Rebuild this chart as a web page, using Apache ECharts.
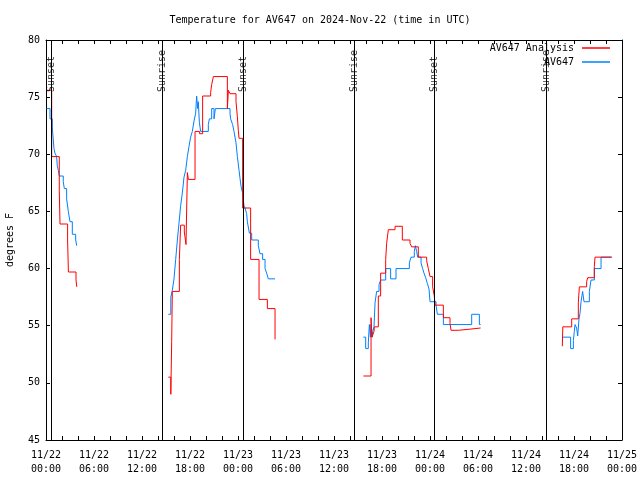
<!DOCTYPE html>
<html>
<head>
<meta charset="utf-8">
<script src="https://cdn.jsdelivr.net/npm/echarts@6/dist/echarts.min.js"></script>
<style>html,body{margin:0;padding:0;background:#fff}#c{width:640px;height:480px}</style>
</head>
<body>
<div id="c"></div>
<script>
// Hours since 2024-11-22 00:00 UTC, temperature in degrees F
const xTickLabels = ['11/22\n00:00','11/22\n06:00','11/22\n12:00','11/22\n18:00','11/23\n00:00','11/23\n06:00','11/23\n12:00','11/23\n18:00','11/24\n00:00','11/24\n06:00','11/24\n12:00','11/24\n18:00','11/25\n00:00'];
const eventTimes = [0.71, 14.52, 24.66, 38.55, 48.55, 62.58];
const eventNames = ['Sunset','Sunrise','Sunset','Sunrise','Sunset','Sunrise'];

const analysisNight1 = [[0.08,75.6],[0.71,69.8],[1.66,66.8],[1.75,63.9],[2.7,62.5],[2.8,59.7],[3.75,59.0],[3.85,58.4]];
const analysisDay1 = [[15.29,50.5],[15.6,49.0],[15.71,53.6],[15.79,58.0],[16.67,60.8],[16.83,63.8],[17.29,63.2],[17.5,62.1],[17.67,68.4],[17.8,67.8],[18.63,72.0],[19.2,71.8],[19.58,75.1],[20.58,75.4],[20.71,76.1],[20.92,76.8],[22.67,74.0],[22.8,75.6],[23.0,75.3],[23.75,74.6],[23.92,73.3],[24.04,72.1],[24.13,71.4],[24.58,65.3],[25.58,60.8],[26.63,57.3],[27.67,56.5],[28.63,53.8]];
const analysisDay2 = [[39.67,50.6],[40.63,55.7],[40.75,54.0],[41.0,54.5],[41.04,54.9],[41.54,57.6],[41.83,59.6],[42.46,60.8],[42.58,62.2],[42.79,63.4],[43.63,63.7],[44.54,62.5],[45.5,62.2],[45.71,61.9],[46.54,61.0],[47.58,60.7],[47.79,60.0],[48.0,59.3],[48.33,58.4],[48.54,57.6],[48.63,56.8],[49.67,55.7],[50.5,55.2],[50.63,54.6],[51.54,54.7],[53.0,54.8],[54.33,54.8]];
const analysisDay3 = [[64.54,53.2],[64.6,54.9],[65.71,55.6],[66.54,57.0],[66.67,58.4],[67.58,58.85],[67.71,59.2],[68.54,60.2],[68.63,61.0],[70.71,61.0]];

const obsNight1 = [[0.08,74.0],[0.5,73.1],[0.79,72.3],[1.0,70.5],[1.12,70.1],[1.33,69.8],[1.41,69.0],[1.54,68.6],[1.66,68.1],[2.16,67.6],[2.29,67.0],[2.58,66.1],[2.79,65.0],[3.0,64.1],[3.29,63.0],[3.71,62.5],[3.84,62.0]];
const obsDay1 = [[15.29,56.0],[15.6,57.5],[15.79,58.1],[16.0,59.1],[16.21,60.8],[16.42,62.5],[16.63,64.0],[16.83,65.5],[17.04,66.6],[17.25,68.0],[17.46,68.6],[17.67,69.8],[17.88,70.7],[18.08,71.5],[18.29,72.0],[18.5,72.9],[18.71,73.6],[18.83,75.1],[18.96,74.0],[19.04,74.6],[19.17,72.8],[19.33,72.0],[20.29,72.6],[20.42,73.1],[20.71,74.0],[21.0,73.1],[21.17,74.0],[23.0,73.6],[23.08,73.1],[23.33,72.6],[23.5,72.0],[23.75,71.0],[23.92,69.8],[24.13,68.6],[24.25,67.9],[24.38,67.2],[24.58,66.6],[24.67,66.0],[24.75,65.5],[24.88,65.3],[25.08,64.8],[25.17,64.1],[25.42,63.1],[25.71,62.5],[26.54,62.0],[26.75,61.3],[27.08,60.8],[27.38,60.0],[27.58,59.6],[27.79,59.1],[28.63,59.1]];
const obsDay2 = [[39.67,54.0],[39.96,53.0],[40.29,53.5],[40.42,55.1],[40.55,54.0],[40.63,55.1],[40.75,54.0],[40.83,54.5],[41.0,54.9],[41.13,57.0],[41.33,58.0],[41.63,58.6],[41.83,59.0],[42.46,60.0],[43.08,59.1],[43.75,60.0],[45.42,60.5],[45.63,61.0],[46.04,61.5],[46.17,62.0],[46.33,61.5],[46.46,61.0],[46.88,60.5],[47.08,60.0],[47.25,59.6],[47.46,59.2],[47.67,58.7],[47.88,58.2],[48.0,57.1],[48.75,56.8],[48.92,56.0],[49.67,55.1],[53.21,56.0],[54.17,55.1],[54.33,55.1]];
const obsDay3 = [[64.54,54.0],[65.58,53.0],[65.92,53.7],[66.04,54.5],[66.13,55.1],[66.33,54.8],[66.46,54.1],[66.63,55.6],[66.75,56.1],[66.88,57.1],[67.08,58.0],[67.25,57.1],[67.92,58.0],[68.13,59.0],[68.54,60.0],[69.38,61.0],[70.71,61.0]];

const FONT = '"DejaVu Sans Mono", "Liberation Mono", monospace';
const RED = '#ff0000';
const BLUE = '#0080ff';
const chart = echarts.init(document.getElementById('c'), null, {renderer: 'canvas'});

const xAxisBase = {
  type: 'value', min: 0, max: 72, interval: 2,
  axisLine: {show: true, onZero: false, lineStyle: {color: '#000', width: 1}},
  axisTick: {show: true, inside: true, length: 4, lineStyle: {color: '#000'}},
  splitLine: {show: false}
};
const yAxisBase = {
  type: 'value', min: 45, max: 80, interval: 5,
  axisLine: {show: true, onZero: false, lineStyle: {color: '#000', width: 1}},
  axisTick: {show: true, inside: true, length: 4, lineStyle: {color: '#000'}},
  splitLine: {show: false}
};

function stepSeries(name, color, data, extra) {
  return Object.assign({
    name: name, type: 'line', step: 'end', symbol: 'none', showSymbol: false,
    xAxisIndex: 0, yAxisIndex: 0, silent: true,
    lineStyle: {color: color, width: 1}, itemStyle: {color: color},
    data: data
  }, extra || {});
}

const legendCommon = {
  right: 30, orient: 'vertical', align: 'right', padding: 0,
  icon: 'rect', itemWidth: 28, itemHeight: 1.5, itemGap: 2,
  textStyle: {fontFamily: FONT, fontSize: 10, color: '#000', padding: [0, 3, 0, 0]}
};

const option = {
  backgroundColor: '#fff',
  animation: false,
  title: {
    text: 'Temperature for AV647 on 2024-Nov-22 (time in UTC)',
    left: 'center', top: 10,
    textStyle: {fontFamily: FONT, fontSize: 10, fontWeight: 'normal', color: '#000'}
  },
  legend: [
    Object.assign({data: ['AV647 Analysis'], top: 43}, legendCommon),
    Object.assign({data: ['AV647'], top: 57}, legendCommon)
  ],
  grid: {left: 46, right: 18, top: 40, bottom: 40, containLabel: false, outerBoundsMode: 'none'},
  xAxis: [
    Object.assign({}, xAxisBase, {
      position: 'bottom',
      axisLabel: {
        show: true, margin: 8, fontFamily: FONT, fontSize: 10, lineHeight: 14, color: '#000',
        formatter: v => (v % 6 === 0 ? xTickLabels[v / 6] : '')
      }
    }),
    Object.assign({}, xAxisBase, {position: 'top', axisLabel: {show: false}})
  ],
  yAxis: [
    Object.assign({}, yAxisBase, {
      position: 'left',
      name: 'degrees F', nameLocation: 'middle', nameGap: 31, nameRotate: 90,
      nameTextStyle: {fontFamily: FONT, fontSize: 10, color: '#000'},
      axisLabel: {show: true, margin: 6, fontFamily: FONT, fontSize: 10, color: '#000'}
    }),
    Object.assign({}, yAxisBase, {position: 'right', axisLabel: {show: false}})
  ],
  series: [
    stepSeries('AV647 Analysis', RED, analysisNight1, {
      z: 3,
      markLine: {
        silent: true, symbol: ['none', 'none'],
        lineStyle: {color: '#000', type: 'solid', width: 1},
        label: {show: false},
        data: eventTimes.map(t => ({xAxis: t}))
      }
    }),
    stepSeries('AV647 Analysis', RED, analysisDay1, {z: 3}),
    stepSeries('AV647 Analysis', RED, analysisDay2, {z: 3}),
    stepSeries('AV647 Analysis', RED, analysisDay3, {z: 3}),
    stepSeries('AV647', BLUE, obsNight1, {z: 2}),
    stepSeries('AV647', BLUE, obsDay1, {z: 2}),
    stepSeries('AV647', BLUE, obsDay2, {z: 2}),
    stepSeries('AV647', BLUE, obsDay3, {z: 2}),
    {
      name: 'events', type: 'scatter', xAxisIndex: 0, yAxisIndex: 0,
      symbolSize: 1, itemStyle: {color: 'rgba(0,0,0,0)'}, silent: true,
      data: eventTimes.map((t, i) => ({value: [t, 75.45], name: eventNames[i]})),
      label: {
        show: true, position: 'inside', rotate: 90, align: 'left', verticalAlign: 'middle',
        formatter: p => p.name,
        fontFamily: FONT, fontSize: 10, color: '#000'
      },
      z: 4
    }
  ]
};
chart.setOption(option);
</script>
</body>
</html>
